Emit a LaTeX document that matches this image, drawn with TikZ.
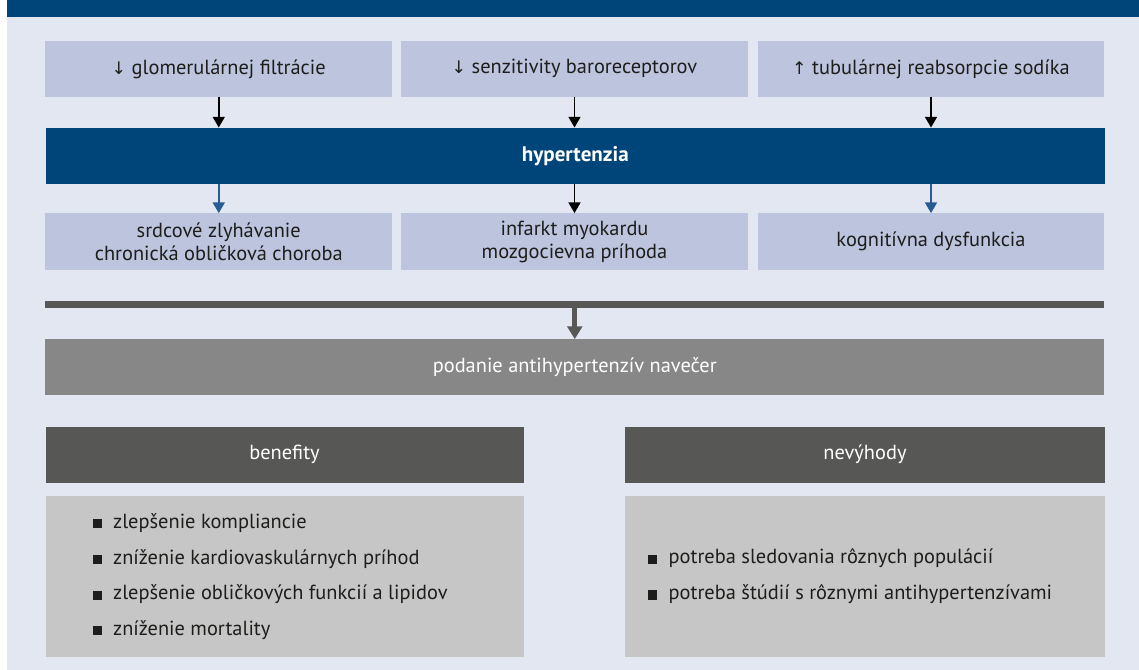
\documentclass[tikz,border=0pt]{standalone}
\usepackage{fontspec}
\setmainfont{PT Sans}
\newfontfamily\arrowfont{DejaVu Sans}
\usetikzlibrary{arrows.meta}

\definecolor{titleblue}{RGB}{0,69,122}
\definecolor{paleblue}{RGB}{226,231,241}
\definecolor{boxblue}{RGB}{189,197,222}
\definecolor{arrowblue}{RGB}{38,92,145}
\definecolor{darkgray}{RGB}{87,87,86}
\definecolor{midgray}{RGB}{135,135,135}
\definecolor{lightgray}{RGB}{198,198,198}
\definecolor{textblack}{RGB}{29,29,27}

\newcommand{\sqbul}{\rule{6.8pt}{6.8pt}\hspace{8.5pt}}
\newcommand{\dn}{{\arrowfont\fontsize{13}{15}\selectfont ↓}\ }
\newcommand{\up}{{\arrowfont\fontsize{13}{15}\selectfont ↑}\ }

\begin{document}
\begin{tikzpicture}[x=0.75pt, y=-0.75pt,
    every node/.style={inner sep=0pt, font=\fontsize{15.3}{17.5}\selectfont},
    cause/.style={fill=boxblue, text=textblack, minimum width=260pt, minimum height=41.8pt},
    effect/.style={fill=boxblue, text=textblack, minimum width=260pt, minimum height=42.5pt, align=center},
    head/.style={fill=darkgray, text=white, minimum height=42pt},
    body/.style={fill=lightgray, minimum height=120.5pt},
    arr/.style={line width=1.2pt, -{Triangle[width=9pt,length=8pt]}},
    thickarr/.style={line width=3.5pt, darkgray, -{Triangle[width=11pt,length=9.5pt]}}]
    \useasboundingbox (0,0) rectangle (1139,670);

    % Background and title strip
    \fill[paleblue] (7,17) rectangle (1139,670);
    \fill[titleblue] (7,0) rectangle (1139,17);

    % Causes along the top
    \node[cause] (filtr) at (218.75,68.85) {\dn glomerulárnej filtrácie};
    \node[cause] (baro) at (574.5,68.85) {\dn senzitivity baroreceptorov};
    \node[cause] (sodik) at (931,68.85) {\up tubulárnej reabsorpcie sodíka};

    % Central bar
    \node[fill=titleblue, text=white, font=\fontsize{15.8}{18}\selectfont\bfseries,
          minimum width=794.6pt, minimum height=42.2pt] (hyper) at (575.25,155.9) {hypertenzia};

    % Consequences
    \node[effect] (srdce) at (218.75,241.7) {srdcové zlyhávanie\\chronická obličková choroba};
    \node[effect] (infarkt) at (574.5,241.7) {infarkt myokardu\\mozgocievna príhoda};
    \node[effect] (kogn) at (931,241.7) {kognitívna dysfunkcia};

    \draw[arr] (filtr) -- (filtr |- hyper.north);
    \draw[arr] (baro) -- (baro |- hyper.north);
    \draw[arr] (sodik) -- (sodik |- hyper.north);
    \draw[arr, arrowblue] (srdce |- hyper.south) -- (srdce);
    \draw[arr] (infarkt |- hyper.south) -- (infarkt);
    \draw[arr, arrowblue] (kogn |- hyper.south) -- (kogn);

    % Separator and evening dosing
    \node[fill=darkgray, minimum width=794.6pt, minimum height=5.25pt] (bar) at (574.75,304.2) {};
    \node[fill=midgray, text=white, minimum width=794.6pt, minimum height=41.8pt] (vecer) at (574.75,367.2) {podanie antihypertenzív navečer};
    \draw[thickarr] (bar) -- (vecer);

    % Benefits and drawbacks
    \node[head, minimum width=358.5pt] (plus) at (284.5,454.7) {benefity};
    \node[head, minimum width=359.8pt] (minus) at (865,454.7) {nevýhody};
    \node[body, minimum width=358.5pt] (plusbody) at (284.5,576.3) {};
    \node[body, minimum width=359.8pt] (minusbody) at (865,576.3) {};

    \node[anchor=west, align=left, text=textblack, font=\fontsize{15.3}{26.8}\selectfont] (pluslist) at (92.5,576.5)
        {\sqbul zlepšenie kompliancie\\
         \sqbul zníženie kardiovaskulárnych príhod\\
         \sqbul zlepšenie obličkových funkcií a lipidov\\
         \sqbul zníženie mortality};
    \node[anchor=west, align=left, text=textblack, font=\fontsize{15.3}{26.8}\selectfont] (minuslist) at (648,576.3)
        {\sqbul potreba sledovania rôznych populácií\\
         \sqbul potreba štúdií s rôznymi antihypertenzívami};
\end{tikzpicture}
\end{document}
